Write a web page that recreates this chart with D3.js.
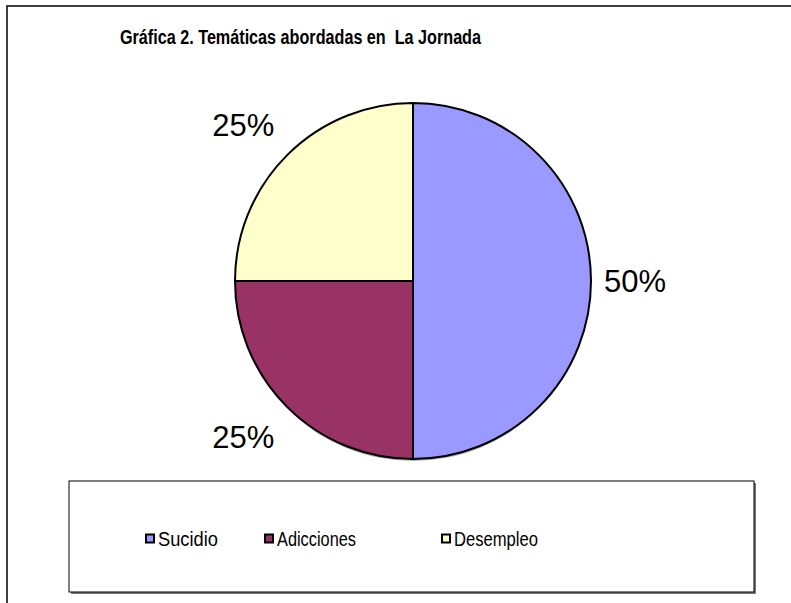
<!DOCTYPE html>
<html><head><meta charset="utf-8">
<script src="https://cdn.jsdelivr.net/npm/d3@7"></script>
<style>body{margin:0;background:#fff}svg{display:block}</style>
</head><body>
<script>
const categories = ["Sucidio", "Adicciones", "Desempleo"];
const values = [50, 25, 25];
const colors = ["#9999FF", "#993366", "#FFFFCC"];
const title = "Gráfica 2. Temáticas abordadas en\u00A0 La Jornada";

const W = 791, H = 603;
const FONT = "Liberation Sans, Arial, sans-serif";
const svg = d3.select("body").append("svg").attr("width", W).attr("height", H);
svg.append("rect").attr("width", W).attr("height", H).attr("fill", "#fff");

// outer border (right/bottom clipped)
svg.append("rect").attr("x", 7).attr("y", 6).attr("width", 800).attr("height", 620)
  .attr("fill", "none").attr("stroke", "#000").attr("stroke-width", 1.5);

svg.append("text").attr("x", 120).attr("y", 44)
  .attr("font-family", FONT).attr("font-weight", "bold")
  .attr("font-size", 20).attr("textLength", 361).attr("lengthAdjust", "spacingAndGlyphs")
  .text(title);

const cx = 413, cy = 281, R = 178;
const pie = d3.pie().sort(null).value(d => d)(values);
const arc = d3.arc().innerRadius(0).outerRadius(R);
const g = svg.append("g").attr("transform", `translate(${cx},${cy})`);

// subtle shadow
g.append("circle").attr("cx", 0).attr("cy", 2).attr("r", R).attr("fill", "#555").attr("opacity", 0.45);

g.selectAll("path.slice").data(pie).enter().append("path").attr("class", "slice")
  .attr("d", arc).attr("fill", (d, i) => colors[i])
  .attr("stroke", "#000").attr("stroke-width", 2).attr("stroke-linejoin", "round");

const total = d3.sum(values);
g.selectAll("text.pct").data(pie).enter().append("text").attr("class", "pct")
  .each(function (d) {
    const a = (d.startAngle + d.endAngle) / 2;
    const right = Math.sin(a) > 0.9;
    const r = right ? 222 : 240;
    const x = Math.sin(a) * r;
    const y = -Math.cos(a) * r * (right ? 1 : 0.92);
    d3.select(this).attr("x", x).attr("y", y + 11);
  })
  .attr("text-anchor", "middle")
  .attr("font-family", FONT).attr("font-size", 31)
  .text(d => Math.round(d.data / total * 100) + "%");

// legend
const lg = svg.append("g");
lg.append("rect").attr("x", 71).attr("y", 483).attr("width", 685).attr("height", 111).attr("fill", "#777");
lg.append("rect").attr("x", 69).attr("y", 481).attr("width", 685).attr("height", 111)
  .attr("fill", "#fff").attr("stroke", "#000").attr("stroke-width", 1);
const legX = [145, 264, 441];
const legW = [60, 79, 84];
categories.forEach((c, i) => {
  lg.append("rect").attr("x", legX[i] + 1).attr("y", 534.5).attr("width", 8).attr("height", 8)
    .attr("fill", colors[i]).attr("stroke", "#000").attr("stroke-width", 2);
  lg.append("text").attr("x", legX[i] + 13).attr("y", 546)
    .attr("font-family", FONT).attr("font-size", 20)
    .attr("textLength", legW[i]).attr("lengthAdjust", "spacingAndGlyphs").text(c);
});
</script>
</body></html>
